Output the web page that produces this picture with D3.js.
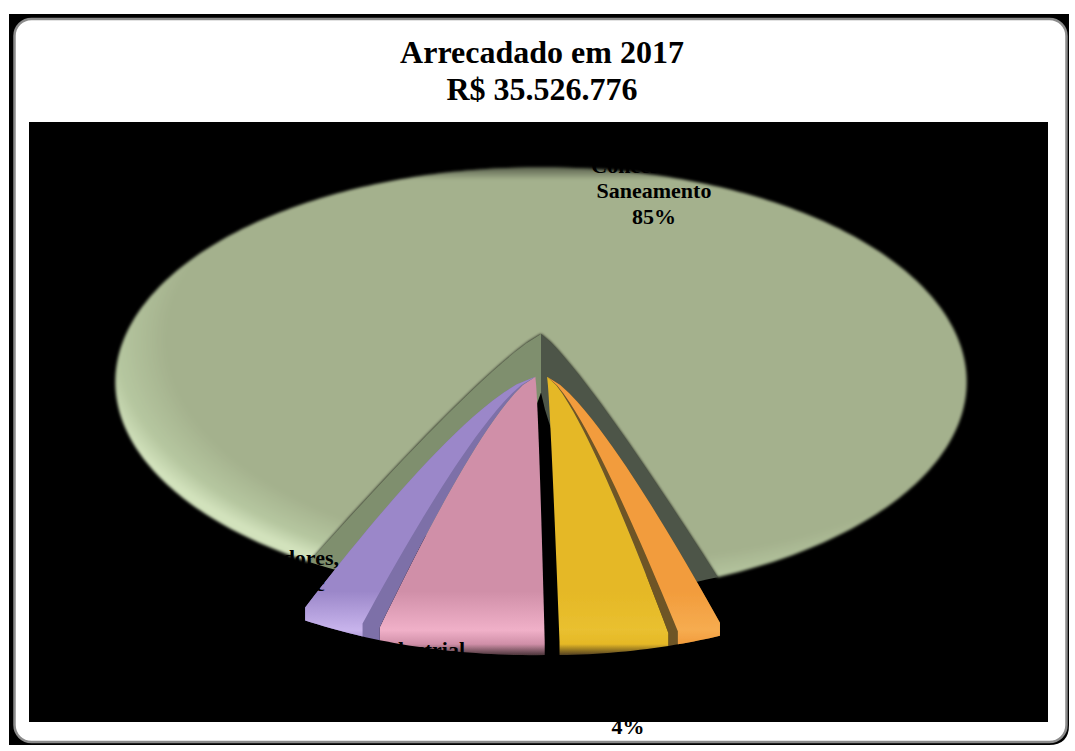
<!DOCTYPE html>
<html><head><meta charset="utf-8">
<script src="https://cdn.jsdelivr.net/npm/d3@7/dist/d3.min.js"></script>
<style>html,body{margin:0;padding:0;background:#fff}svg{display:block}text{font-family:"Liberation Serif",serif;font-weight:700;fill:#000;text-anchor:middle}</style>
</head><body><div id="c"></div>
<script>
const titleLines = ["Arrecadado em 2017", "R$ 35.526.776"];
const categories = ["Saneamento", "Orange", "Yellow", "Industrial", "Anteriores"];
const values = [85, 2, 4, 6, 3];
const colors = ["#a4b18d", "#f29c3c", "#e5b826", "#d08fa8", "#9b87c9"];
const lightColors = ["#c6d8b0", "#f6ac50", "#e9c030", "#f0b0c8", "#c8b4ec"];
const wallColors = ["#7f8f6e", "#6e5426", "#000000", "#000000", "#7d6fa8"];
const labelLines = [
  {x:273,y:[565,591],t:["Fornecedores,","Outros, etc"]},
  {x:418,y:[657,682],t:["Industrial","6%"]},
  {x:628,y:[708,734],t:["Outras","4%"]},
  {x:654,y:[173,198,224],t:["Concessão de","Saneamento","85%"]}
];

const W=1075,H=751;
const svg=d3.select("#c").append("svg").attr("width",W).attr("height",H);
const defs=svg.append("defs");

svg.append("path").attr("fill","#000").attr("d","M9,14H1069V725Q1069,745 1049,745H9Z");
svg.append("rect").attr("x",14.5).attr("y",19).attr("width",1052).attr("height",723).attr("rx",17)
  .attr("fill","#fff").attr("stroke","#8c8c8c").attr("stroke-width",2.5);
svg.append("rect").attr("x",29).attr("y",122).attr("width",1019).attr("height",600).attr("fill","#000");

svg.selectAll("text.t").data(titleLines).join("text").attr("class","t")
  .attr("x",542).attr("y",(d,i)=>[63,100][i]).attr("font-size",32).text(d=>d);

const cx=541,cy=334,A=415,B=204,k=0.223,warpAngle=0.15;
const warpT=t=>{const p=(t-Math.PI);return Math.PI+p-warpAngle*Math.sin(p);};
function project(thetaDeg,r,o){
  o=o||{};
  const p=o.p||0.85, wid=o.wid||1;
  let t=((thetaDeg%360)+360)%360*Math.PI/180; t=warpT(t);
  let u=wid*r*Math.sin(t)*(r>0?Math.pow(r,p-1):0), v=r*Math.cos(t);
  if(o.ex){u+=o.dx; v-=o.ex;}
  const s=1+k*v;
  return [cx+A*u/s, cy-B*v/s];
}
const line=d3.line();
const deg=a=>a*180/Math.PI;
const start=211;
const pie=d3.pie().sort(null).value(d=>d).startAngle(start*Math.PI/180).endAngle((start+360)*Math.PI/180);
const arcs=pie(values);

function wedge(a0,a1,r,o,drop){
  const n=Math.max(8,Math.ceil(Math.abs(a1-a0)));
  const d=drop||0;
  const pts=[];
  for(let i=0;i<=24;i++)pts.push(project(a0,r*i/24,o));
  for(let i=0;i<=n;i++){const q=project(a0+(a1-a0)*i/n,r,o);pts.push([q[0],q[1]+d]);}
  for(let i=24;i>=0;i--)pts.push(project(a1,r*i/24,o));
  return line(pts)+"Z";
}

defs.append("filter").attr("id","soft").attr("x","-5%").attr("y","-5%").attr("width","110%").attr("height","110%")
  .append("feGaussianBlur").attr("stdDeviation",1.6);
defs.append("filter").attr("id","soft2").attr("x","-10%").attr("y","-10%").attr("width","120%").attr("height","120%")
  .append("feGaussianBlur").attr("stdDeviation",0.7);

const rg=defs.append("radialGradient").attr("id","mainG").attr("gradientUnits","userSpaceOnUse")
  .attr("cx",0).attr("cy",0).attr("r",1).attr("gradientTransform","translate(600,340) scale(510,260)");
[[0,"#a4b18d"],[.85,"#a4b18d"],[.95,"#b6c7a0"],[1,"#d2e2bc"]].forEach(s=>rg.append("stop").attr("offset",s[0]).attr("stop-color",s[1]));
const lg=defs.append("linearGradient").attr("id","topShade").attr("gradientUnits","userSpaceOnUse").attr("x1",0).attr("x2",0).attr("y1",166).attr("y2",180);
lg.append("stop").attr("offset",0).attr("stop-color","#000").attr("stop-opacity",.5);
lg.append("stop").attr("offset",1).attr("stop-color","#000").attr("stop-opacity",0);

const main=arcs[0], a0=deg(main.startAngle), a1=deg(main.endAngle);
const mainPath=wedge(a0,a1,1);
const mg=svg.append("g").attr("filter","url(#soft)");
mg.append("path").attr("d",mainPath).attr("fill","url(#mainG)");
mg.append("path").attr("d",mainPath).attr("fill","url(#topShade)");

function wallPath(edge,rimTo,splitDeg,rs){
  const pts=[];
  for(let i=0;i<=20;i++)pts.push(project(edge,i/20));
  for(let i=1;i<=6;i++)pts.push(project(edge+(rimTo-edge)*i/6,1));
  for(let i=1;i<=10;i++)pts.push(project(rimTo+(splitDeg-rimTo)*i/10,1+(rs-1)*i/10));
  pts.push(project(splitDeg,0));
  return line(pts)+"Z";
}
const wallL=a0, wallR=a1-360, split=180;
svg.append("path").attr("d",wallPath(wallL,wallL-8,split,0.27)).attr("fill","#7f8f6e");
svg.append("path").attr("d",wallPath(wallR,wallR+8,split,0.27)).attr("fill","#4d5548");

const rSmall=0.93, drop=13;
const dxByIndex=[0,0.014,0.014,-0.013,-0.013];
const widByIndex=[1,0.985,0.985,1.0,1.0];
const powByIndex=[0,0.74,0.74,0.72,0.72];
arcs.slice(1).forEach((d,i)=>{
  const idx=i+1, col=colors[idx], light=lightColors[idx];
  const id="g"+idx;
  const g=defs.append("linearGradient").attr("id",id).attr("gradientUnits","userSpaceOnUse").attr("x1",0).attr("x2",0).attr("y1",380).attr("y2",658);
  [[0,col],[.76,col],[.9,light],[.95,col],[1,"#2a1f1f"]].forEach(s=>g.append("stop").attr("offset",s[0]).attr("stop-color",s[1]));
  const s=deg(d.startAngle), e=deg(d.endAngle);
  const o={ex:0.2,dx:dxByIndex[idx],p:powByIndex[idx],wid:widByIndex[idx]};
  const grp=svg.append("g").attr("filter","url(#soft2)");
  const hasWall=wallColors[idx]!=="#000000";
  const wall=idx===1?1.3:2.4;
  const fs=hasWall&&idx!==1?s+wall:s, fe=hasWall&&idx===1?e-wall:e;
  if(hasWall) grp.append("path").attr("d",wedge(s,e,rSmall,o,drop)).attr("fill",wallColors[idx]);
  grp.append("path").attr("d",wedge(fs,fe,rSmall,o,drop)).attr("fill","url(#"+id+")");
});

labelLines.forEach(l=>l.t.forEach((t,i)=>{
  svg.append("text").attr("x",l.x).attr("y",l.y[i]).attr("font-size",22).text(t);
}));
</script></body></html>
